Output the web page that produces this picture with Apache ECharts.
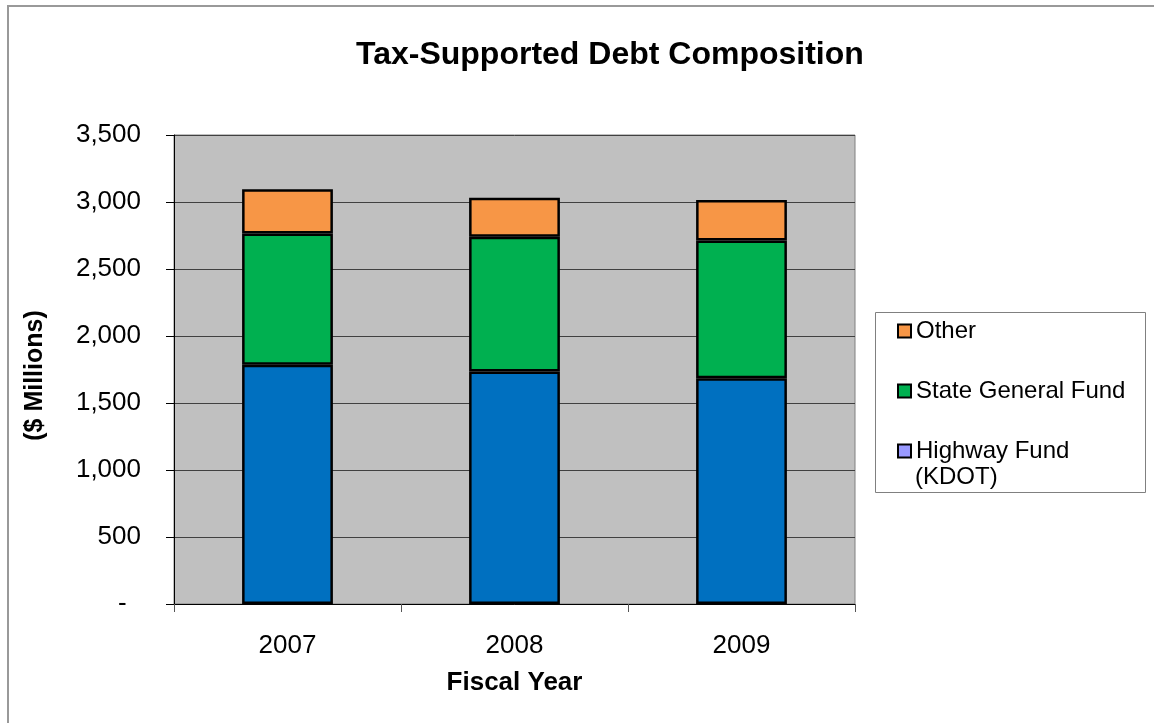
<!DOCTYPE html>
<html>
<head>
<meta charset="utf-8">
<script src="https://cdn.jsdelivr.net/npm/echarts@6/dist/echarts.min.js"></script>
<style>
html,body{margin:0;padding:0;background:#fff;}
#chart{width:1154px;height:723px;}
</style>
</head>
<body>
<div id="chart"></div>
<script>
const categories = ['2007', '2008', '2009'];
const highwayFund = [1785, 1735, 1685];
const stateGeneralFund = [980, 1005, 1027];
const other = [330, 292, 303];
const yTicks = [0, 500, 1000, 1500, 2000, 2500, 3000, 3500];

const FONT = 'Liberation Sans, Arial, sans-serif';
const chart = echarts.init(document.getElementById('chart'));

function fmt(v) {
  if (v === 0) return '-  ';
  return v.toString().replace(/\B(?=(\d{3})+(?!\d))/g, ',');
}

const barBorder = { borderColor: '#000', borderWidth: 2.5 };

chart.setOption({
  backgroundColor: '#fff',
  animation: false,
  title: {
    text: 'Tax-Supported Debt Composition',
    left: 351,
    top: 34,
    textStyle: { fontFamily: FONT, fontWeight: 'bold', fontSize: 32, color: '#000' }
  },
  grid: {
    left: 174, top: 135, right: 299, bottom: 119,
    show: true, backgroundColor: '#C0C0C0', borderColor: '#808080', borderWidth: 1
  },
  legend: {
    orient: 'vertical',
    left: 897, top: 319,
    padding: 0,
    itemGap: 36,
    itemWidth: 13, itemHeight: 13,
    icon: 'rect',
    itemStyle: { borderColor: '#000', borderWidth: 2 },
    textStyle: { fontFamily: FONT, fontSize: 24, color: '#000' },
    data: [
      { name: 'Other' },
      { name: 'State General Fund' },
      { name: 'Highway Fund (KDOT)', itemStyle: { color: '#9999FF' } }
    ],
    formatter: function (n) { return n === 'Highway Fund (KDOT)' ? 'Highway Fund' : n; }
  },
  xAxis: {
    type: 'category',
    data: categories,
    name: 'Fiscal Year',
    nameLocation: 'middle',
    nameGap: 66,
    nameTextStyle: { fontFamily: FONT, fontWeight: 'bold', fontSize: 26, color: '#000' },
    axisLine: { lineStyle: { color: '#000', width: 1 } },
    axisTick: { show: true, length: 8, lineStyle: { color: '#555' } },
    axisLabel: { margin: 29, fontFamily: FONT, fontSize: 26, color: '#000' }
  },
  yAxis: {
    type: 'value',
    min: 0, max: 3500, interval: 500,
    name: '($ Millions)',
    nameLocation: 'middle',
    nameGap: 126,
    nameTextStyle: { fontFamily: FONT, fontWeight: 'bold', fontSize: 25, color: '#000', padding: [0, 12, 0, 0] },
    axisLine: { show: true, lineStyle: { color: '#000', width: 1 } },
    axisTick: { show: true, length: 8, lineStyle: { color: '#000' } },
    axisLabel: { margin: 33, fontFamily: FONT, fontSize: 26, color: '#000', formatter: fmt },
    splitLine: { show: true, lineStyle: { color: '#404040', width: 1 } }
  },
  series: [
    { name: 'Highway Fund (KDOT)', type: 'bar', stack: 'debt', barWidth: '40%', data: highwayFund,
      itemStyle: Object.assign({ color: '#0070C0' }, barBorder) },
    { name: 'State General Fund', type: 'bar', stack: 'debt', data: stateGeneralFund,
      itemStyle: Object.assign({ color: '#00B050' }, barBorder) },
    { name: 'Other', type: 'bar', stack: 'debt', data: other,
      itemStyle: Object.assign({ color: '#F79646' }, barBorder) }
  ],
  graphic: [
    { type: 'polyline', silent: true,
      shape: { points: [[8, 723], [8, 6], [1154, 6]] },
      style: { fill: 'none', stroke: '#999', lineWidth: 2 } },
    { type: 'rect', silent: true,
      shape: { x: 875.5, y: 312.5, width: 270, height: 180 },
      style: { fill: 'none', stroke: '#808080', lineWidth: 1 } },
    { type: 'text', left: 915, top: 465, silent: true,
      style: { text: '(KDOT)', font: '24px ' + FONT, fill: '#000' } }
  ]
});
</script>
</body>
</html>
